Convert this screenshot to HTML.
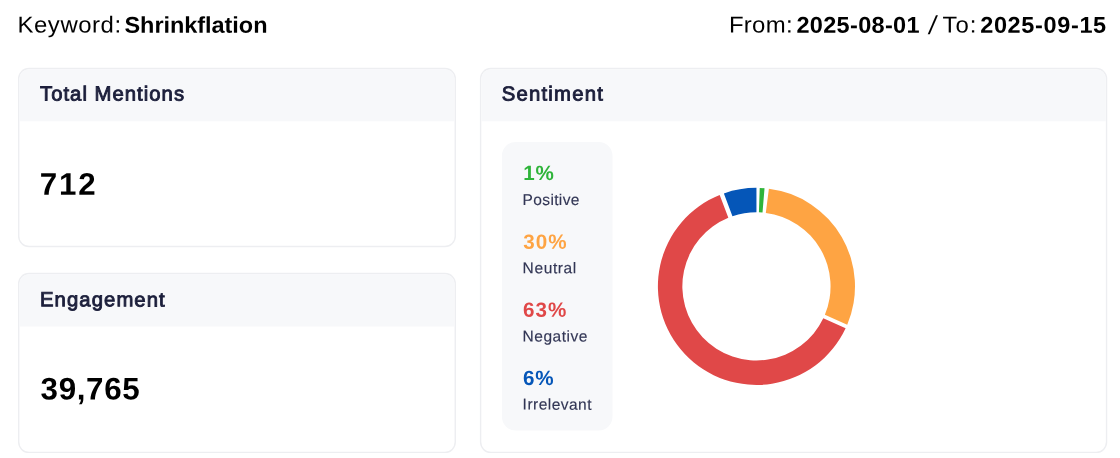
<!DOCTYPE html>
<html lang="en">
<head>
<meta charset="utf-8">
<title>Keyword report</title>
<style>
html,body{margin:0;padding:0;background:#fff;}
body{width:1120px;height:458px;position:relative;overflow:hidden;font-family:"Liberation Sans",sans-serif;color:#000;}
.t{position:absolute;transform-origin:0 50%;white-space:nowrap;line-height:normal;margin:0;padding:0;}
header,main,section,ul,li,p.line{display:block;margin:0;padding:0;list-style:none;font-size:0;line-height:0;}
.b{font-weight:bold;}
.h{font-weight:normal;color:#1c1f3b;-webkit-text-stroke:0.9px #1c1f3b;}
.num{font-weight:bold;color:#000;}
.pct{font-weight:bold;}
.lab{color:#323655;-webkit-text-stroke:0.15px #323655;}
</style>
</head>
<body>
<svg id="gfx" aria-hidden="true" style="position:absolute;left:0;top:0;" width="1120" height="458" viewBox="0 0 1120 458">
<path d="M29.00 67.80H444.95A11.00 11.00 0 0 1 455.95 78.80V236.20A11.00 11.00 0 0 1 444.95 247.20H29.00A11.00 11.00 0 0 1 18.00 236.20V78.80A11.00 11.00 0 0 1 29.00 67.80Z" fill="#edeef1"/>
<path d="M29.00 69.20H444.95A9.60 9.60 0 0 1 454.55 78.80V236.20A9.60 9.60 0 0 1 444.95 245.80H29.00A9.60 9.60 0 0 1 19.40 236.20V78.80A9.60 9.60 0 0 1 29.00 69.20Z" fill="#fff"/>
<path d="M29.00 69.20H444.95A9.60 9.60 0 0 1 454.55 78.80V121.30H19.40V78.80A9.60 9.60 0 0 1 29.00 69.20Z" fill="#f7f8fa"/>
<path d="M29.00 272.75H444.95A11.00 11.00 0 0 1 455.95 283.75V442.10A11.00 11.00 0 0 1 444.95 453.10H29.00A11.00 11.00 0 0 1 18.00 442.10V283.75A11.00 11.00 0 0 1 29.00 272.75Z" fill="#edeef1"/>
<path d="M29.00 274.15H444.95A9.60 9.60 0 0 1 454.55 283.75V442.10A9.60 9.60 0 0 1 444.95 451.70H29.00A9.60 9.60 0 0 1 19.40 442.10V283.75A9.60 9.60 0 0 1 29.00 274.15Z" fill="#fff"/>
<path d="M29.00 274.15H444.95A9.60 9.60 0 0 1 454.55 283.75V326.40H19.40V283.75A9.60 9.60 0 0 1 29.00 274.15Z" fill="#f7f8fa"/>
<path d="M490.90 67.80H1096.25A11.00 11.00 0 0 1 1107.25 78.80V442.10A11.00 11.00 0 0 1 1096.25 453.10H490.90A11.00 11.00 0 0 1 479.90 442.10V78.80A11.00 11.00 0 0 1 490.90 67.80Z" fill="#edeef1"/>
<path d="M490.90 69.20H1096.25A9.60 9.60 0 0 1 1105.85 78.80V442.10A9.60 9.60 0 0 1 1096.25 451.70H490.90A9.60 9.60 0 0 1 481.30 442.10V78.80A9.60 9.60 0 0 1 490.90 69.20Z" fill="#fff"/>
<path d="M490.90 69.20H1096.25A9.60 9.60 0 0 1 1105.85 78.80V121.30H481.30V78.80A9.60 9.60 0 0 1 490.90 69.20Z" fill="#f7f8fa"/>
<path d="M515.65 141.90H598.75A13.75 13.75 0 0 1 612.50 155.65V416.85A13.75 13.75 0 0 1 598.75 430.60H515.65A13.75 13.75 0 0 1 501.90 416.85V155.65A13.75 13.75 0 0 1 515.65 141.90Z" fill="#f7f8fa"/>
<path d="M759.72 187.90A98.55 98.55 0 0 1 764.53 188.18L762.52 212.55A74.1 74.1 0 0 0 758.91 212.34Z" fill="#2fb43a"/>
<path d="M768.89 188.64A98.55 98.55 0 0 1 847.23 324.75L824.88 314.82A74.1 74.1 0 0 0 765.80 212.89Z" fill="#fea443"/>
<path d="M845.62 328.36A98.55 98.55 0 1 1 719.69 194.96L728.33 217.84A74.1 74.1 0 1 0 823.30 318.36Z" fill="#e04848"/>
<path d="M723.88 193.39A98.55 98.55 0 0 1 756.45 187.85L756.45 212.30A74.1 74.1 0 0 0 732.45 216.30Z" fill="#0556b8"/>
</svg>
<header class="topbar">
<p class="line"><span class="t" id="kw1" style="left:17px;top:11px;font-size:23.00px;letter-spacing:0.54px;transform:translate(0.5px,0.5px) rotate(0.05deg) scaleX(1.04);">Keyword:</span> <strong class="t b" id="kw2" style="left:124px;top:11px;font-size:22.80px;letter-spacing:-0.04px;transform:translate(0.5px,0.75px) rotate(0.05deg) scaleX(1.03);">Shrinkflation</strong></p>
<p class="line"><span class="t" id="d1" style="left:728px;top:11px;font-size:23.00px;letter-spacing:0.29px;transform:translate(0.95px,0.5px) rotate(0.05deg) scaleX(1.04);">From:</span> <strong class="t b" id="d2" style="left:796px;top:11px;font-size:22.80px;letter-spacing:0.33px;transform:translate(0.4px,0.75px) rotate(0.05deg) scaleX(1.03);">2025-08-01</strong> <span class="t" id="d3" style="left:929px;top:10px;font-size:26.00px;letter-spacing:0.00px;transform:translate(0.0px,0.0px) rotate(0.05deg) skewX(-9deg);">/</span> <span class="t" id="d4" style="left:942px;top:11px;font-size:23.00px;letter-spacing:0.93px;transform:translate(0.5px,0.5px) rotate(0.05deg) scaleX(1.04);">To:</span> <strong class="t b" id="d5" style="left:980px;top:11px;font-size:22.80px;letter-spacing:0.63px;transform:translate(0.2px,0.75px) rotate(0.05deg) scaleX(1.03);">2025-09-15</strong></p>
</header>
<main class="grid">
<section class="card"><h2 class="t h" id="h1" style="left:40px;top:82px;font-size:20.30px;letter-spacing:1.02px;transform:translate(0px,0.5px) rotate(0.05deg);">Total Mentions</h2><p class="t num" id="n1" style="left:39px;top:166px;font-size:31.30px;letter-spacing:1.78px;transform:translate(0.8px,0.7px) rotate(0.05deg);">712</p></section>
<section class="card"><h2 class="t h" id="h2" style="left:40px;top:288px;font-size:20.30px;letter-spacing:1.08px;transform:translate(0px,0.3px) rotate(0.05deg);">Engagement</h2><p class="t num" id="n2" style="left:40px;top:371px;font-size:31.30px;letter-spacing:0.66px;transform:translate(0.6px,0.55px) rotate(0.05deg);">39,765</p></section>
<section class="card"><h2 class="t h" id="h3" style="left:501px;top:82px;font-size:20.30px;letter-spacing:1.23px;transform:translate(0.7px,0.5px) rotate(0.05deg);">Sentiment</h2>
<ul class="legend">
<li><span class="t pct" id="p1" style="left:523px;top:161px;font-size:20.60px;letter-spacing:0.80px;color:#2fb43a;transform:translate(0.3px,0.0px) rotate(0.05deg);">1%</span> <span class="t lab" id="l1" style="left:522px;top:191px;font-size:15.50px;letter-spacing:0.36px;transform:translate(0.6px,0.0px) rotate(0.05deg);">Positive</span></li>
<li><span class="t pct" id="p2" style="left:523px;top:229px;font-size:20.60px;letter-spacing:1.00px;color:#fea443;transform:translate(0.3px,0.75px) rotate(0.05deg);">30%</span> <span class="t lab" id="l2" style="left:522px;top:259px;font-size:15.50px;letter-spacing:0.62px;transform:translate(0.6px,0.3px) rotate(0.05deg);">Neutral</span></li>
<li><span class="t pct" id="p3" style="left:523px;top:297px;font-size:20.60px;letter-spacing:1.00px;color:#e04848;transform:translate(0px,0.7px) rotate(0.05deg);">63%</span> <span class="t lab" id="l3" style="left:522px;top:327px;font-size:15.50px;letter-spacing:0.53px;transform:translate(0.6px,0.5px) rotate(0.05deg);">Negative</span></li>
<li><span class="t pct" id="p4" style="left:523px;top:366px;font-size:20.60px;letter-spacing:0.70px;color:#0556b8;transform:translate(0px,0.0px) rotate(0.05deg);">6%</span> <span class="t lab" id="l4" style="left:522px;top:395px;font-size:15.50px;letter-spacing:0.48px;transform:translate(0.6px,0.6px) rotate(0.05deg);">Irrelevant</span></li>
</ul>
</section>
</main>
</body>
</html>
